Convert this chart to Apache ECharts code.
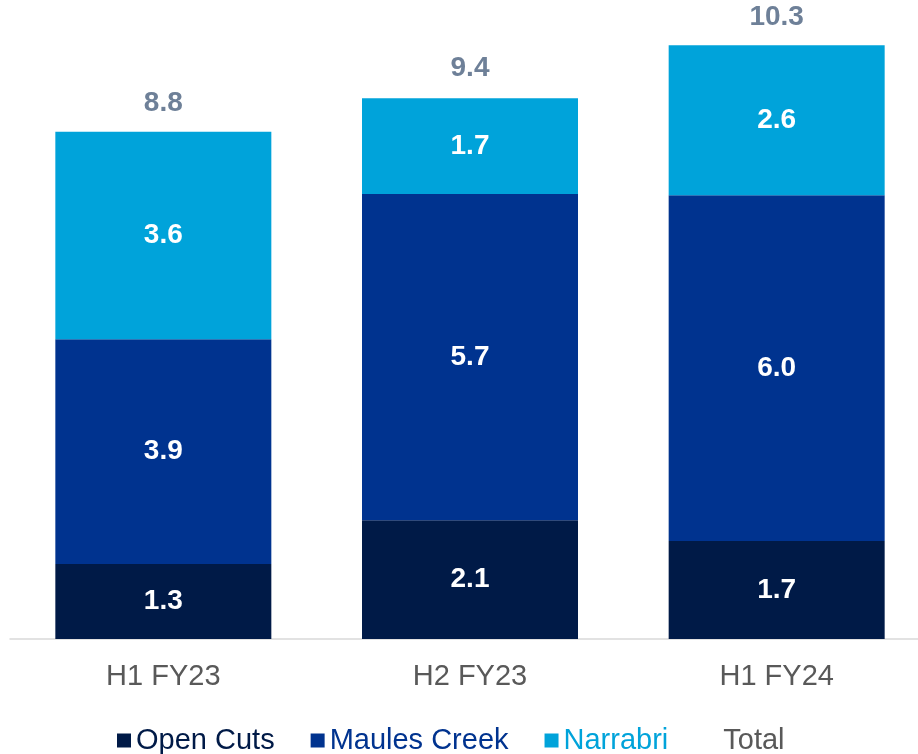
<!DOCTYPE html>
<html>
<head>
<meta charset="utf-8">
<style>
  html, body { margin: 0; padding: 0; background: #fff; }
  #chart { width: 918px; height: 754px; }
</style>
<script src="https://cdn.jsdelivr.net/npm/echarts@6/dist/echarts.min.js"></script>
</head>
<body>
<div id="chart"></div>
<script>
// categories and values
const periods = ["H1 FY23", "H2 FY23", "H1 FY24"];
const openCuts = [1.3, 2.06, 1.7];
const maulesCreek = [3.9, 5.66, 6.0];
const narrabri = [3.6, 1.66, 2.6];
const totals = [8.8, 9.4, 10.3];

const colors = {
  open: "#001A47",
  maules: "#00338F",
  narrabri: "#00A3DA",
  total: "#6E8098",
};

const chart = echarts.init(document.getElementById("chart"));

// label for stacked segments
const segLabel = {
  show: true,
  position: "inside",
  color: "#fff",
  fontFamily: "Liberation Sans, Arial",
  fontWeight: "bold",
  fontSize: 28,
  formatter: (p) => p.value.toFixed(1),
};

function barSeries(name, data, color) {
  return {
    name: name,
    type: "bar",
    stack: "total",
    barWidth: 216,
    data: data,
    itemStyle: { color: color },
    label: segLabel,
    emphasis: { disabled: true },
  };
}

const option = {
  animation: false,
  grid: { left: 10, width: 920, top: 5, bottom: 115, outerBoundsMode: "none" },
  legend: {
    top: 721,
    left: 112,
    itemWidth: 14,
    itemHeight: 14,
    itemGap: 36,
    textStyle: { fontFamily: "Liberation Sans, Arial", fontSize: 29 },
    data: [
      { name: "Open Cuts", icon: "rect", textStyle: { color: colors.open } },
      { name: "Maules Creek", icon: "rect", textStyle: { color: colors.maules } },
      { name: "Narrabri", icon: "rect", textStyle: { color: colors.narrabri } },
      { name: "Total", icon: "rect", itemStyle: { color: "rgba(0,0,0,0)" }, textStyle: { color: "#595959" } },
    ],
  },
  xAxis: {
    type: "category",
    data: periods,
    axisLine: { lineStyle: { color: "#D9D9D9", width: 1.5 } },
    axisTick: { show: false },
    axisLabel: {
      color: "#595959",
      fontFamily: "Liberation Sans, Arial",
      fontSize: 29,
      margin: 23,
    },
  },
  yAxis: {
    type: "value",
    min: 0,
    max: 11,
    show: false,
    splitLine: { show: false },
  },
  series: [
    barSeries("Open Cuts", openCuts, colors.open),
    barSeries("Maules Creek", maulesCreek, colors.maules),
    barSeries("Narrabri", narrabri, colors.narrabri),
    {
      name: "Total",
      type: "line",
      data: totals,
      symbol: "circle",
      symbolSize: 1,
      itemStyle: { color: "rgba(0,0,0,0)" },
      lineStyle: { width: 0, color: "rgba(0,0,0,0)" },
      label: {
        show: true,
        position: "top",
        distance: 14,
        color: colors.total,
        fontFamily: "Liberation Sans, Arial",
        fontWeight: "bold",
        fontSize: 28,
        formatter: (p) => p.value.toFixed(1),
      },
      emphasis: { disabled: true },
      z: 5,
    },
  ],
};

chart.setOption(option);
</script>
</body>
</html>
